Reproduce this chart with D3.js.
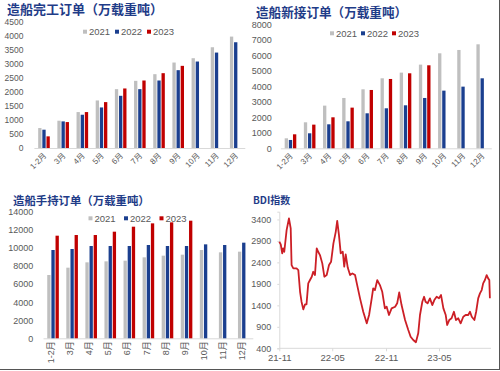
<!DOCTYPE html>
<html lang="zh">
<head>
<meta charset="utf-8" />
<title>造船订单与BDI</title>
<script src="https://d3js.org/d3.v7.min.js"></script>
<style>
  body { margin: 0; background: #fff; }
  text { font-family: "Liberation Sans", "Noto Sans CJK SC", sans-serif; }
  .title { font-family: "Noto Sans CJK SC", sans-serif; font-weight: 700; fill: #1f3c88; }
  .tick text { fill: #595959; }
</style>
</head>
<body>
<svg width="500" height="371"></svg>
<script>
// categories & series
var months = ["1-2月", "3月", "4月", "5月", "6月", "7月", "8月", "9月", "10月", "11月", "12月"];
var years = ["2021", "2022", "2023"];
var colors = ["#bfbfbf", "#1b3f8f", "#c00000"];

// 造船完工 (万载重吨)
var done2021 = [711, 972, 1280, 1694, 2097, 2393, 2630, 3045, 3199, 3590, 3969];
var done2022 = [652, 948, 1185, 1445, 1860, 2097, 2405, 2773, 3081, 3400, 3768];
var done2023 = [415, 924, 1280, 1635, 2121, 2405, 2666, 2927, null, null, null];

// 造船新接 (万载重吨)
var new2021 = [645, 1677, 2753, 3247, 3806, 4516, 4882, 5398, 6129, 6344, 6710];
var new2022 = [538, 968, 1548, 1742, 2258, 2581, 2774, 3247, 3720, 3978, 4516];
var new2023 = [903, 1527, 2000, 2624, 3763, 4473, 4839, 5355, null, null, null];

// 造船手持 (万载重吨)
var hold2021 = [7000, 7811, 8400, 8511, 8585, 8953, 9138, 9248, 9764, 9506, 9580];
var hold2022 = [9764, 9875, 10206, 10206, 10206, 10317, 10206, 10206, 10390, 10317, 10575];
var hold2023 = [11348, 11422, 11422, 11790, 12343, 12711, 12822, 13006, null, null, null];

// BDI
var bdiDates = ["2021-11-01", "2021-11-06", "2021-11-11", "2021-11-14", "2021-11-18", "2021-11-26", "2021-12-04",
  "2021-12-10", "2021-12-13", "2021-12-19", "2021-12-30", "2022-01-05", "2022-01-11", "2022-01-16", "2022-01-22",
  "2022-01-28", "2022-02-02", "2022-02-08", "2022-02-14", "2022-02-20", "2022-02-25", "2022-03-03", "2022-03-09",
  "2022-03-14", "2022-03-20", "2022-03-28", "2022-04-04", "2022-04-12", "2022-04-20", "2022-04-27", "2022-05-05",
  "2022-05-13", "2022-05-18", "2022-05-24", "2022-05-30", "2022-06-06", "2022-06-11", "2022-06-16", "2022-06-23",
  "2022-07-01", "2022-07-09", "2022-07-18", "2022-07-24", "2022-08-04", "2022-08-15", "2022-08-27", "2022-09-04",
  "2022-09-13", "2022-09-18", "2022-09-24", "2022-10-02", "2022-10-11", "2022-10-19", "2022-10-28", "2022-11-03",
  "2022-11-11", "2022-11-20", "2022-12-02", "2022-12-09", "2022-12-16", "2022-12-24", "2023-01-05", "2023-01-16",
  "2023-01-24", "2023-02-02", "2023-02-11", "2023-02-19", "2023-02-25", "2023-03-05", "2023-03-11", "2023-03-16",
  "2023-03-23", "2023-03-31", "2023-04-08", "2023-04-15", "2023-04-23", "2023-05-01", "2023-05-08", "2023-05-16",
  "2023-05-24", "2023-05-29", "2023-06-05", "2023-06-13", "2023-06-21", "2023-06-28", "2023-07-06", "2023-07-14",
  "2023-07-23", "2023-07-31", "2023-08-09", "2023-08-15", "2023-08-21", "2023-08-30", "2023-09-05", "2023-09-12",
  "2023-09-18", "2023-09-24", "2023-09-29", "2023-10-05", "2023-10-11", "2023-10-16", "2023-10-20", "2023-10-22"];
var bdiValues = [2880, 2819, 2610, 2726, 2647, 3152, 3424,
  3191, 2338, 2260, 2260, 2221, 1716, 1484, 1307,
  1423, 1423, 1912, 1989, 2066, 2182, 2105, 2726,
  2647, 2570, 2377, 2066, 2105, 2338, 2414, 2842,
  3112, 3368, 3035, 2610, 2647, 2299, 2587, 2280,
  2105, 2144, 2105, 1912, 1563, 1251, 982, 1175,
  1563, 1796, 1756, 1989, 1872, 1716, 1330, 1368,
  1175, 1330, 1368, 1447, 1702, 1407, 1058, 826,
  670, 593, 540, 749, 1175, 1484, 1600, 1484,
  1447, 1563, 1407, 1523, 1600, 1563, 1640, 1330,
  1175, 942, 1058, 1098, 1251, 1058, 1098, 982,
  1135, 1175, 1175, 1251, 1135, 1058, 1251, 1563,
  1679, 1756, 1912, 1989, 2105, 2028, 1989, 1563];
var bdiTicks = [400, 900, 1400, 1900, 2400, 2900, 3400];
var bdiXTicks = ["2021-11-01", "2022-05-01", "2022-11-01", "2023-05-01"];

var svg = d3.select("svg");
var plain = d3.format("d");

function barPanel(p) {
  var g = svg.append("g");
  var rows = months.map(function (m, i) {
    return { m: m, v: p.series.map(function (s) { return s[i]; }) };
  });

  var x0 = d3.scaleBand().domain(months).range(p.xr);
  var bw = x0.bandwidth();
  var x1 = d3.scaleBand().domain(years).range([(bw - 11.6) / 2, (bw + 11.6) / 2]).paddingInner(0.2);
  var y = d3.scaleLinear().domain([0, p.max]).range(p.yr);

  g.append("text").attr("class", "title")
    .attr("x", p.title[1]).attr("y", p.title[2])
    .attr("font-size", p.title[3])
    .text(p.title[0]);

  // y axis: labels only
  var ya = g.append("g").attr("transform", "translate(" + p.yLabelX + ",0)")
    .call(d3.axisLeft(y).tickValues(d3.range(0, p.max + 1, p.step)).tickFormat(plain)
      .tickSize(0).tickPadding(0));
  ya.select(".domain").remove();
  ya.selectAll("text").attr("font-size", p.fs);

  // legend (sits under the bars)
  var lg = g.append("g").attr("transform", "translate(" + p.legend[0] + "," + p.legend[1] + ")");
  years.forEach(function (yr, i) {
    var gx = i * p.legend[2];
    lg.append("rect").attr("x", gx).attr("y", -2).attr("width", 4).attr("height", 4).attr("fill", colors[i]);
    lg.append("text").attr("x", gx + 6).attr("y", 0).attr("dy", "0.35em")
      .attr("font-size", p.legendFs).attr("fill", "#595959").text(yr);
  });

  // baseline
  g.append("line").attr("x1", p.xr[0]).attr("x2", p.xr[1])
    .attr("y1", y(0) + 0.5).attr("y2", y(0) + 0.5).attr("stroke", "#d9d9d9");

  g.selectAll("g.grp").data(rows).enter().append("g").attr("class", "grp")
    .attr("transform", function (d) { return "translate(" + x0(d.m) + ",0)"; })
    .selectAll("rect").data(function (d) { return d.v; }).enter()
    .filter(function (v) { return v != null; })
    .append("rect")
    .attr("x", function (v, i) { return x1(years[i]); })
    .attr("width", x1.bandwidth())
    .attr("y", function (v) { return y(v); })
    .attr("height", function (v) { return y(0) - y(v); })
    .attr("fill", function (v, i) { return colors[i]; });

  // x labels
  g.selectAll("text.xl").data(months).enter().append("text").attr("class", "xl")
    .attr("font-size", p.xFs).attr("fill", "#595959").attr("text-anchor", "end")
    .attr("dy", "0.35em")
    .attr("transform", function (m) {
      var cx = x0(m) + bw / 2;
      return "translate(" + (cx + p.xOff[0]) + "," + (y(0) + p.xOff[1]) + ") rotate(" + p.rot + ")";
    })
    .text(function (m) { return m; });
}

barPanel({
  title: ["造船完工订单（万载重吨）", 7, 14, 13],
  series: [done2021, done2022, done2023],
  max: 4500, step: 500, xr: [34.4, 245.3], yr: [148, 21.7],
  yLabelX: 23.5, fs: 8.5,
  legend: [83, 31.7, 32], legendFs: 9.5,
  xFs: 8, rot: -45, xOff: [1, 6]
});

barPanel({
  title: ["造船新接订单（万载重吨）", 256, 17, 12.6],
  series: [new2021, new2022, new2023],
  max: 8000, step: 1000, xr: [280.9, 491.8], yr: [148.3, 24.3],
  yLabelX: 271.7, fs: 9,
  legend: [330, 33.3, 31], legendFs: 9.5,
  xFs: 8, rot: -45, xOff: [1, 6]
});

barPanel({
  title: ["造船手持订单（万载重吨）", 13, 205, 11.4],
  series: [hold2021, hold2022, hold2023],
  max: 14000, step: 2000, xr: [43.5, 253.3], yr: [338.3, 211.7],
  yLabelX: 33.3, fs: 9,
  legend: [88.5, 218.3, 35.5], legendFs: 9.5,
  xFs: 9, rot: -90, xOff: [-2, 3]
});

// BDI panel
(function () {
  var g = svg.append("g");
  var parse = d3.timeParse("%Y-%m-%d");
  var data = bdiDates.map(function (d, i) { return { t: parse(d), v: bdiValues[i] }; });
  var x = d3.scaleTime().domain([parse("2021-11-01"), parse("2023-05-01")]).range([279.3, 439]);
  var y = d3.scaleLinear().domain([400, 3580]).range([348.3, 211.7]);

  g.append("text").attr("class", "title").attr("x", 253).attr("y", 204)
    .attr("font-size", 10).text("BDI指数");

  var ya = g.append("g").attr("transform", "translate(279.3,0)")
    .call(d3.axisLeft(y).tickValues(bdiTicks).tickFormat(plain).tickSize(2).tickPadding(6));
  ya.selectAll("text").attr("font-size", 9);
  ya.selectAll("line, .domain").attr("stroke", "#d9d9d9");

  var xa = g.append("g").attr("transform", "translate(0,348.3)")
    .call(d3.axisBottom(x).tickValues(bdiXTicks.map(parse)).tickFormat(d3.timeFormat("%y-%m"))
      .tickSize(3).tickSizeOuter(0).tickPadding(3));
  xa.select(".domain").attr("d", "M279.3,0H491");
  xa.selectAll("text").attr("font-size", 9.5);
  xa.selectAll("line, .domain").attr("stroke", "#d9d9d9");

  g.append("path").datum(data)
    .attr("fill", "none").attr("stroke", "#cc1f26").attr("stroke-width", 1.8)
    .attr("stroke-linejoin", "round")
    .attr("d", d3.line().x(function (d) { return x(d.t); }).y(function (d) { return y(d.v); }));
})();

// frame edges seen on the right and bottom of the picture
svg.append("line").attr("x1", 499.5).attr("x2", 499.5).attr("y1", 0).attr("y2", 370).attr("stroke", "#555");
svg.append("line").attr("x1", 0).attr("x2", 500).attr("y1", 369.5).attr("y2", 369.5).attr("stroke", "#555");
</script>
</body>
</html>
